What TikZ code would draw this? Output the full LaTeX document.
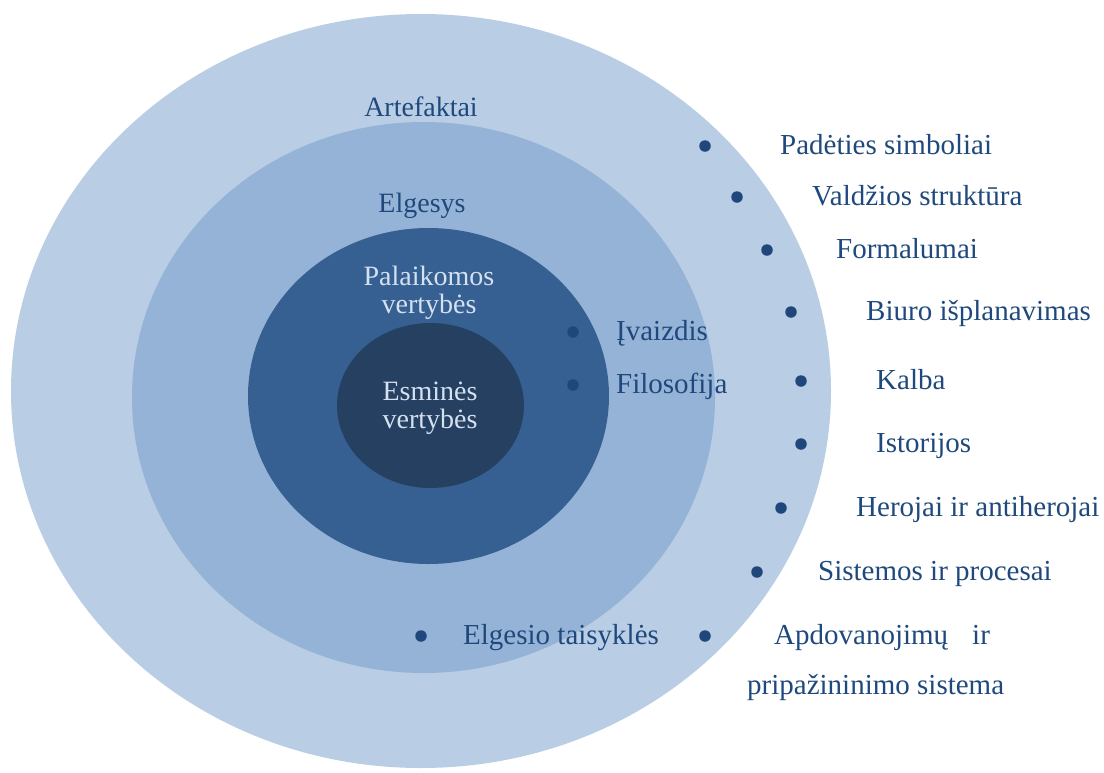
\documentclass[tikz,border=0pt]{standalone}
\usepackage{fontspec}
\setmainfont{Liberation Serif}
\usetikzlibrary{shapes.geometric}
\definecolor{ringA}{HTML}{B9CDE5}
\definecolor{ringB}{HTML}{95B3D7}
\definecolor{ringC}{HTML}{366092}
\definecolor{ringD}{HTML}{254061}
\definecolor{txtblue}{HTML}{1F497D}
\definecolor{txtlight}{HTML}{D5E1F0}
\definecolor{dotblue}{HTML}{1F477B}
\begin{document}
\begin{tikzpicture}[x=1pt,y=-1pt,
  ring/.style={ellipse, inner sep=0pt, draw=none},
  ctr/.style={font=\fontsize{28}{28}\selectfont, inner sep=0pt, anchor=base},
  lbl/.style={font=\fontsize{29}{29}\selectfont, text=txtblue, inner sep=0pt, anchor=base west},
  dot/.style={circle, fill=dotblue, minimum size=11.5pt, inner sep=0pt}]
\useasboundingbox (0,0) rectangle (1104,772);
% rings
\node[ring, fill=ringA, minimum width=820pt, minimum height=754pt] (artefaktai) at (421,391) {};
\node[ring, fill=ringB, minimum width=583pt, minimum height=551pt] (elgesys) at (423.5,397.5) {};
\node[ring, fill=ringC, minimum width=361pt, minimum height=336pt] (palaikomos) at (428.5,396) {};
\node[ring, fill=ringD, minimum width=187pt, minimum height=165pt] (esmines) at (430.5,405.5) {};
% ring titles
\node[ctr, text=txtblue] (tA) at (421,116) {Artefaktai};
\node[ctr, text=txtblue] (tB) at (422,212) {Elgesys};
\node[ctr, text=txtlight] (tC1) at (429,285) {Palaikomos};
\node[ctr, text=txtlight] (tC2) at (429,313) {vertybės};
\node[ctr, text=txtlight] (tD1) at (430,400) {Esminės};
\node[ctr, text=txtlight] (tD2) at (430,428) {vertybės};
% inner bullets
\node[dot] (d1) at (573,332) {};
\node[lbl] (l1) at (616,340) {Įvaizdis};
\node[dot] (d2) at (573,385) {};
\node[lbl] (l2) at (616,393) {Filosofija};
% outer bullets
\node[dot] (d3) at (705,146) {};
\node[lbl] (l3) at (780,154) {Padėties simboliai};
\node[dot] (d4) at (737,197) {};
\node[lbl] (l4) at (812,205) {Valdžios struktūra};
\node[dot] (d5) at (767,250) {};
\node[lbl] (l5) at (836,258) {Formalumai};
\node[dot] (d6) at (791,312) {};
\node[lbl] (l6) at (866,320) {Biuro išplanavimas};
\node[dot] (d7) at (801,381) {};
\node[lbl] (l7) at (876,389) {Kalba};
\node[dot] (d8) at (801,444) {};
\node[lbl] (l8) at (876,452) {Istorijos};
\node[dot] (d9) at (781,508) {};
\node[lbl] (l9) at (856,516) {Herojai ir antiherojai};
\node[dot] (d10) at (757,572) {};
\node[lbl] (l10) at (818,580) {Sistemos ir procesai};
\node[dot] (d11) at (421,636) {};
\node[lbl] (l11) at (463,644) {Elgesio taisyklės};
\node[dot] (d12) at (705,636) {};
\node[lbl] (l12) at (774,644) {Apdovanojimų\hspace{24pt}ir};
\node[lbl] (l12b) at (747,694) {pripažininimo sistema};
\end{tikzpicture}
\end{document}
